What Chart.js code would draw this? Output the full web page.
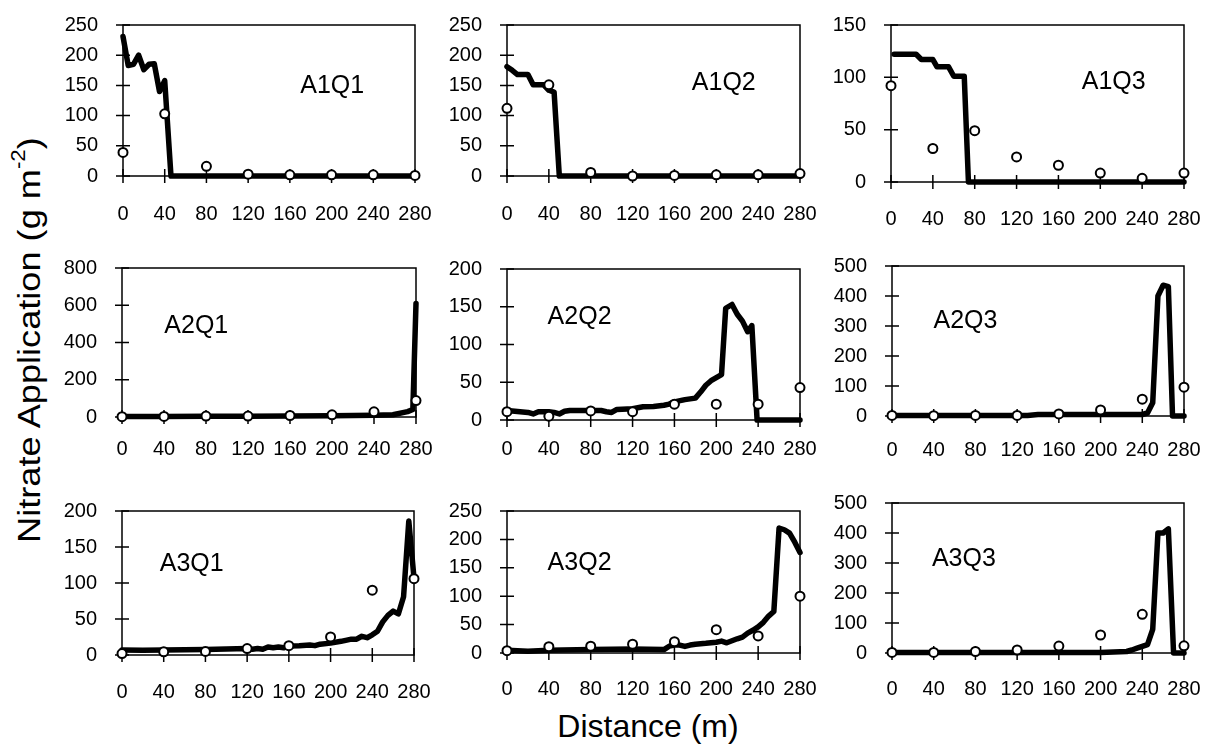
<!DOCTYPE html>
<html>
<head>
<meta charset="utf-8">
<script src="https://cdn.jsdelivr.net/npm/chart.js@4.4.1/dist/chart.umd.min.js"></script>
<style>
  html, body { margin: 0; padding: 0; background: #fff; }
  body { width: 1206px; height: 755px; position: relative; overflow: hidden;
         font-family: "Liberation Sans", Arial, sans-serif; color: #000; }
  canvas { position: absolute; }
  .title { position: absolute; font-size: 32px; white-space: nowrap; text-align: center; line-height: 40px; height: 40px; }
  .title sup { font-size: 0.62em; vertical-align: 0; position: relative; top: -0.75em; }
</style>
</head>
<body>
<div class="title" id="yTitle">Nitrate Application (g m<sup>-2</sup>)</div>
<div class="title" id="xTitle">Distance (m)</div>
<script>
// observation distances (m) for the circles
const sampleDist = [0, 40, 80, 120, 160, 200, 240, 280];
const xTickLabels = [0, 40, 80, 120, 160, 200, 240, 280];

// A1Q1
const a1q1LineX = [0, 5, 10, 15, 20, 25, 30, 35, 40, 46, 280];
const a1q1LineY = [231, 183, 185, 200, 176, 185, 186, 140, 158, 0, 0];
const a1q1Obs = [39, 103, 16, 3, 2, 2, 2, 1];

// A1Q2
const a1q2LineX = [0, 5, 10, 20, 25, 35, 40, 45, 50, 280];
const a1q2LineY = [181, 175, 168, 168, 151, 151, 142, 139, 0, 0];
const a1q2Obs = [112, 151, 6, 0, 1, 2, 2, 4];

// A1Q3
const a1q3LineX = [3, 24, 29, 40, 44, 55, 60, 70, 74, 280];
const a1q3LineY = [122, 122, 117, 117, 110, 110, 101, 101, 0, 0];
const a1q3Obs = [92, 32, 49, 24, 16, 8.5, 3.5, 8.5];

// A2Q1
const a2q1LineX = [0, 40, 80, 120, 160, 200, 240, 258, 272, 277, 280];
const a2q1LineY = [3, 3, 4, 4, 6, 7, 9, 12, 29, 40, 610];
const a2q1Obs = [2, 3, 5, 5, 8, 12, 28, 88];

// A2Q2
const a2q2LineX = [0, 20, 25, 30, 40, 45, 50, 55, 60, 90, 95, 100, 105, 120, 130, 140, 150, 155,
  160, 170, 180, 185, 190, 195, 200, 205, 209, 215, 220, 225, 230, 234, 239, 280];
const a2q2LineY = [12.5, 10, 8, 11, 11, 10, 8, 11.5, 12.5, 12.5, 11, 10, 14, 15, 17.5, 18, 19.5, 21,
  24, 27, 29, 37, 46, 52, 56, 60, 148, 153, 140, 131, 117, 125, 0, 0];
const a2q2Obs = [11, 5, 12, 11, 21, 21, 21, 43];

// A2Q3
const a2q3LineX = [0, 130, 140, 240, 245, 250, 255, 260, 265, 269, 280];
const a2q3LineY = [2, 2, 5, 5, 10, 44, 400, 436, 431, 0, 0];
const a2q3Obs = [2, 1, 2, 2, 7, 20, 56, 96];

// A3Q1
const a3q1LineX = [0, 20, 40, 80, 120, 125, 130, 135, 140, 145, 150, 155, 160, 170, 180, 185, 190,
  200, 210, 220, 225, 230, 235, 240, 245, 250, 255, 260, 265, 270, 275, 280];
const a3q1LineY = [7, 6.5, 7, 7.5, 9, 8, 9, 8, 11, 10, 11, 10, 12.5, 13, 14, 13, 15,
  16.5, 19, 22, 22, 26, 24, 28, 33, 46, 55, 61, 57, 81, 186, 107];
const a3q1Obs = [2, 4.5, 5, 9, 13, 25, 90, 106];

// A3Q2
const a3q2LineX = [0, 20, 40, 80, 120, 150, 155, 160, 165, 170, 175, 180, 190, 200, 205, 210, 220,
  225, 230, 235, 240, 245, 250, 255, 260, 265, 270, 275, 280];
const a3q2LineY = [5, 3, 5, 6, 7, 6, 12, 14, 14, 11.5, 14, 15.5, 17, 19, 21, 18, 25,
  28, 35, 40, 46, 54, 65, 73, 220, 217, 211, 195, 177];
const a3q2Obs = [4, 11, 12, 15.5, 20, 41, 30, 100];

// A3Q3
const a3q3LineX = [0, 200, 225, 230, 235, 240, 245, 250, 255, 260, 265, 270, 280];
const a3q3LineY = [2, 2, 5, 10, 16, 22, 28, 79, 400, 400, 414, 0, 0];
const a3q3Obs = [2, 2, 5, 10, 23, 60, 129, 24];

// panel layout: plot rectangle [left, top, right, bottom] in page pixels
const panels = [
  { name: "A1Q1", lx: a1q1LineX, ly: a1q1LineY, obs: a1q1Obs, yMax: 250, yStep: 50, rect: [122.7, 16, 414.3, 175.7], labelAt: [170, 148], xPad: 18 },
  { name: "A1Q2", lx: a1q2LineX, ly: a1q2LineY, obs: a1q2Obs, yMax: 250, yStep: 50, rect: [506.7, 16, 800, 176], labelAt: [176.6, 153.6], xPad: 18 },
  { name: "A1Q3", lx: a1q3LineX, ly: a1q3LineY, obs: a1q3Obs, yMax: 150, yStep: 50, rect: [890.7, 16, 1184, 182.3], labelAt: [182.3, 95.9], xPad: 17 },
  { name: "A2Q1", lx: a2q1LineX, ly: a2q1LineY, obs: a2q1Obs, yMax: 800, yStep: 200, rect: [122, 259.3, 416, 417.3], labelAt: [40.3, 487.6], xPad: 12 },
  { name: "A2Q2", lx: a2q2LineX, ly: a2q2LineY, obs: a2q2Obs, yMax: 200, yStep: 50, rect: [506.7, 260, 800, 420], labelAt: [38.8, 136.6], xPad: 9 },
  { name: "A2Q3", lx: a2q3LineX, ly: a2q3LineY, obs: a2q3Obs, yMax: 500, yStep: 100, rect: [891.7, 257.3, 1184, 416.7], labelAt: [39.8, 315.9], xPad: 14 },
  { name: "A3Q1", lx: a3q1LineX, ly: a3q1LineY, obs: a3q1Obs, yMax: 200, yStep: 50, rect: [122.3, 502.3, 414.3, 655], labelAt: [36.2, 125.7], xPad: 17 },
  { name: "A3Q2", lx: a3q2LineX, ly: a3q2LineY, obs: a3q2Obs, yMax: 250, yStep: 50, rect: [506.7, 501.7, 800, 652.7], labelAt: [38.8, 158], xPad: 16 },
  { name: "A3Q3", lx: a3q3LineX, ly: a3q3LineY, obs: a3q3Obs, yMax: 500, yStep: 100, rect: [891.7, 494.3, 1184, 653.3], labelAt: [38.3, 312], xPad: 16 },
];

const FONT = "'Liberation Sans', Arial, Helvetica, sans-serif";
Chart.defaults.font.family = FONT;
Chart.defaults.font.size = 20;
Chart.defaults.color = "#000";

const LEFT_SPACE = 80;
const TOP_SPACE = 20;
const RIGHT_SPACE = 48;
const BOTTOM_SPACE = 56;

// box around the plot, tick marks crossing the axes, and the panel name
const framePlugin = {
  id: "panelFrame",
  beforeDatasetsDraw(chart, args, opts) {
    const { ctx, chartArea: a, scales } = chart;
    ctx.save();
    ctx.strokeStyle = "#000";
    ctx.lineWidth = 1.5;
    ctx.strokeRect(a.left, a.top, a.right - a.left, a.bottom - a.top);
    ctx.beginPath();
    scales.x.ticks.forEach((t) => {
      const px = scales.x.getPixelForValue(t.value);
      ctx.moveTo(px, a.bottom - 7);
      ctx.lineTo(px, a.bottom + 7);
    });
    scales.y.ticks.forEach((t) => {
      const py = scales.y.getPixelForValue(t.value);
      ctx.moveTo(a.left - 7, py);
      ctx.lineTo(a.left + 7, py);
    });
    ctx.stroke();
    ctx.font = "25px " + FONT;
    ctx.fillStyle = "#000";
    ctx.textAlign = "left";
    ctx.textBaseline = "middle";
    ctx.fillText(
      opts.text,
      scales.x.getPixelForValue(opts.at[0]),
      scales.y.getPixelForValue(opts.at[1]),
    );
    ctx.restore();
  },
};

function createPanel(p) {
  const [l, t, r, b] = p.rect;
  const canvas = document.createElement("canvas");
  const w = Math.round(r - l) + LEFT_SPACE + RIGHT_SPACE;
  const h = Math.round(b - t) + TOP_SPACE + BOTTOM_SPACE;
  canvas.width = w;
  canvas.height = h;
  canvas.style.left = Math.round(l - LEFT_SPACE) + "px";
  canvas.style.top = Math.round(t - TOP_SPACE) + "px";
  document.body.appendChild(canvas);

  const lineData = p.lx.map((x, i) => ({ x, y: p.ly[i] }));
  const obsData = sampleDist.map((x, i) => ({ x, y: p.obs[i] }));

  return new Chart(canvas.getContext("2d"), {
    type: "scatter",
    data: {
      datasets: [
        {
          label: "observed",
          data: obsData,
          showLine: false,
          pointRadius: 4.5,
          pointBackgroundColor: "#fff",
          pointBorderColor: "#000",
          pointBorderWidth: 2,
          clip: false,
        },
        {
          label: "model",
          data: lineData,
          showLine: true,
          borderColor: "#000",
          borderWidth: 5.5,
          borderJoinStyle: "round",
          borderCapStyle: "round",
          pointRadius: 0,
          tension: 0,
          clip: false,
        },
      ],
    },
    options: {
      responsive: false,
      animation: false,
      events: [],
      layout: {
        padding: { top: TOP_SPACE, right: RIGHT_SPACE, left: 0, bottom: 0 },
      },
      scales: {
        x: {
          type: "linear",
          min: 0,
          max: 280,
          grid: { display: false },
          border: { display: false },
          afterFit: (s) => {
            s.height = BOTTOM_SPACE;
          },
          afterBuildTicks: (s) => {
            s.ticks = xTickLabels.map((v) => ({ value: v }));
          },
          ticks: { padding: p.xPad, maxRotation: 0, autoSkip: false },
        },
        y: {
          min: 0,
          max: p.yMax,
          grid: { display: false },
          border: { display: false },
          afterFit: (s) => {
            s.width = LEFT_SPACE;
          },
          ticks: { stepSize: p.yStep, padding: 17 },
        },
      },
      plugins: {
        legend: { display: false },
        tooltip: { enabled: false },
        panelFrame: { text: p.name, at: p.labelAt },
      },
    },
    plugins: [framePlugin],
  });
}

panels.forEach(createPanel);

// axis titles
const yTitle = document.getElementById("yTitle");
yTitle.style.width = "500px";
yTitle.style.left = 29 - 250 + "px";
yTitle.style.top = 340 - 20 + "px";
yTitle.style.transform = "rotate(-90deg) scaleX(1.13)";

const xTitle = document.getElementById("xTitle");
xTitle.style.width = "400px";
xTitle.style.left = 648 - 200 + "px";
xTitle.style.top = 726 - 20 + "px";
</script>
</body>
</html>
